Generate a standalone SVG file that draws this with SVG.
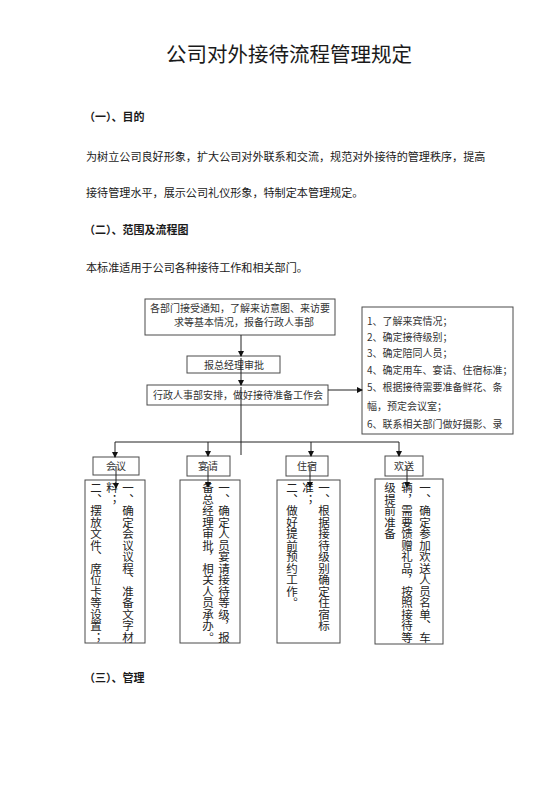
<svg xmlns="http://www.w3.org/2000/svg" width="560" height="792" viewBox="0 0 560 792">
<style>
.bg{fill:#ffffff}
.box{fill:#ffffff;stroke:#4a4a4a;stroke-width:1}
.t{font-family:"Noto Sans CJK SC","Liberation Sans",sans-serif;fill:#1a1a1a}
.title{font-size:20.5px;text-anchor:middle}
.h{font-size:11px;font-weight:bold}
.p{font-size:11.1px}
.s{font-size:10px;fill:#333}
.r{font-size:10px;fill:#333}
.v{font-size:11.5px;writing-mode:vertical-rl;fill:#222}
.c{fill:none;stroke:#222;stroke-width:1}
</style>
<defs>
<marker id="ah" markerWidth="6" markerHeight="6" refX="5" refY="3" orient="auto" markerUnits="userSpaceOnUse">
<path d="M0,0 L6,3 L0,6 Z" fill="#111"/>
</marker>
</defs>
<rect class="bg" x="0" y="0" width="560" height="792"/>

<g id="document-text">
<text class="t title" x="289" y="62">公司对外接待流程管理规定</text>
<text class="t h" x="84" y="121">（一）、目的</text>
<text class="t p" x="86" y="161">为树立公司良好形象，扩大公司对外联系和交流，规范对外接待的管理秩序，提高</text>
<text class="t p" x="86" y="197">接待管理水平，展示公司礼仪形象，特制定本管理规定。</text>
<text class="t h" x="84" y="234">（二）、范围及流程图</text>
<text class="t p" x="86" y="272">本标准适用于公司各种接待工作和相关部门。</text>
<text class="t h" x="84" y="682">（三）、管理</text>
</g>

<g id="node-notify">
<rect class="box" x="145" y="299" width="190" height="36"/>
<text class="t s" x="240" y="312" text-anchor="middle">各部门接受通知，了解来访意图、来访要</text>
<text class="t s" x="244" y="326" text-anchor="middle">求等基本情况，报备行政人事部</text>
</g>

<g id="node-approve">
<rect class="box" x="187" y="356" width="93" height="17"/>
<text class="t s" x="234" y="369" text-anchor="middle">报总经理审批</text>
</g>

<g id="node-arrange">
<rect class="box" x="147" y="385" width="181" height="20"/>
<text class="t s" x="238" y="399" text-anchor="middle">行政人事部安排，做好接待准备工作会</text>
</g>

<g id="node-list">
<rect class="box" x="362" y="307" width="151" height="127"/>
<text class="t r" x="367" y="325">1、了解来宾情况；</text>
<text class="t r" x="367" y="341">2、确定接待级别；</text>
<text class="t r" x="367" y="357">3、确定陪同人员；</text>
<text class="t r" x="367" y="374">4、确定用车、宴请、住宿标准；</text>
<text class="t r" x="367" y="391">5、根据接待需要准备鲜花、条</text>
<text class="t r" x="367" y="410">幅，预定会议室；</text>
<text class="t r" x="367" y="428">6、联系相关部门做好摄影、录</text>
</g>

<g id="node-meeting">
<rect class="box" x="93" y="457" width="46" height="18"/>
<text class="t s" x="116" y="470" text-anchor="middle">会议</text>
<rect class="box" x="85" y="480" width="60" height="163"/>
<text class="t v" x="128" y="482">一、确定会议议程、准备文字材</text>
<text class="t v" x="112" y="482">料；</text>
<text class="t v" x="96" y="482">二、摆放文件、席位卡等设置；</text>
</g>

<g id="node-banquet">
<rect class="box" x="187" y="456" width="43" height="20"/>
<text class="t s" x="208" y="470" text-anchor="middle">宴请</text>
<rect class="box" x="180" y="480" width="60" height="163"/>
<text class="t v" x="224" y="482">一、确定人员宴请接待等级，报</text>
<text class="t v" x="208" y="482">备总经理审批，相关人员承办。</text>
</g>

<g id="node-lodging">
<rect class="box" x="286" y="456" width="42" height="20"/>
<text class="t s" x="307" y="470" text-anchor="middle">住宿</text>
<rect class="box" x="277" y="480" width="63" height="163"/>
<text class="t v" x="324" y="482">一、根据接待级别确定住宿标</text>
<text class="t v" x="308" y="482">准；</text>
<text class="t v" x="292" y="482">二、做好提前预约工作。</text>
</g>

<g id="node-farewell">
<rect class="box" x="385" y="456" width="38" height="20"/>
<text class="t s" x="404" y="470" text-anchor="middle">欢送</text>
<rect class="box" x="375" y="479" width="68" height="165"/>
<text class="t v" x="425" y="482">一、确定参加欢送人员名单、车</text>
<text class="t v" x="407" y="482">辆，需要馈赠礼品，按照接待等</text>
<text class="t v" x="390" y="482">级提前准备</text>
</g>

<g id="connectors">
<path class="c" d="M241,335 V356" marker-end="url(#ah)"/>
<path class="c" d="M241,358 V385" marker-end="url(#ah)"/>
<path class="c" d="M241,387 V455"/>
<path class="c" d="M328,390 H362" marker-end="url(#ah)"/>
<path class="c" d="M115,442 H399"/>
<path class="c" d="M115,442 V457" marker-end="url(#ah)"/>
<path class="c" d="M208,442 V456" marker-end="url(#ah)"/>
<path class="c" d="M311,442 V456" marker-end="url(#ah)"/>
<path class="c" d="M399,442 V456" marker-end="url(#ah)"/>
<path class="c" d="M116,466 V488" marker-end="url(#ah)"/>
<path class="c" d="M208,466 V487" marker-end="url(#ah)"/>
<path class="c" d="M310,466 V487" marker-end="url(#ah)"/>
<path class="c" d="M407,466 V487" marker-end="url(#ah)"/>
</g>
</svg>
